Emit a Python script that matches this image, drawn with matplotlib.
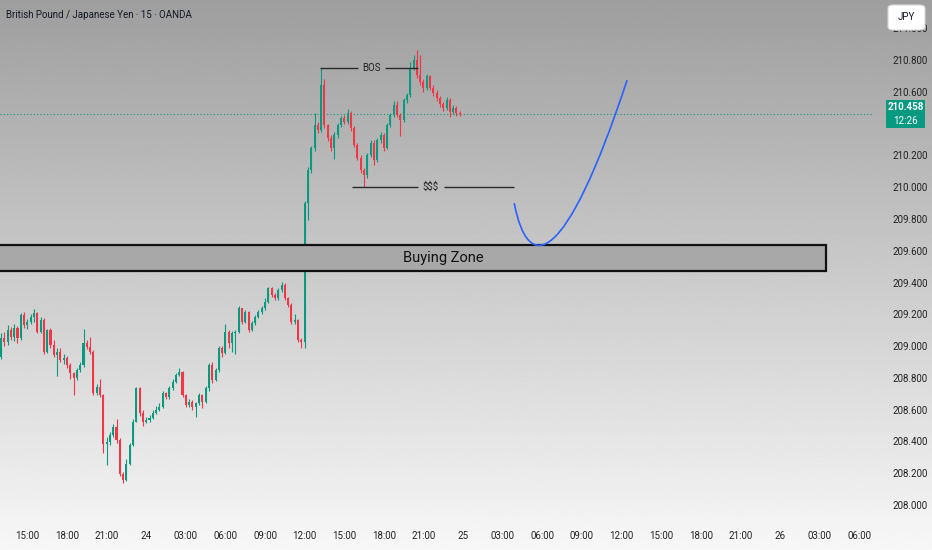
import numpy as np
import matplotlib
matplotlib.use("Agg")
import matplotlib.pyplot as plt
import matplotlib.transforms as mtransforms
from matplotlib.path import Path
from matplotlib.patches import PathPatch, Rectangle, FancyBboxPatch

plt.rcParams["font.family"] = ["Roboto", "DejaVu Sans"]

# GBP/JPY 15m candles (open = previous close)
first_open = 208.933
closes = [
    209.048, 209.027, 209.101, 209.059, 209.111, 209.048, 209.196, 209.133, 209.154, 209.185,
    209.206, 209.090, 209.164, 208.965, 209.101, 209.007, 208.944, 208.965, 208.912, 208.923,
    208.881, 208.828, 208.797, 208.849, 208.881, 209.017, 208.996, 208.965, 208.702, 208.744,
    208.692, 208.387, 208.398, 208.440, 208.492, 208.408, 208.198, 208.156, 208.261, 208.377,
    208.524, 208.734, 208.576, 208.524, 208.534, 208.545, 208.576, 208.597, 208.618, 208.702,
    208.681, 208.734, 208.776, 208.818, 208.839, 208.692, 208.629, 208.650, 208.618, 208.639,
    208.692, 208.650, 208.734, 208.881, 208.786, 208.849, 208.986, 208.954, 209.090, 209.017,
    209.080, 209.090, 209.237, 209.154, 209.217, 209.101, 209.143, 209.185, 209.217, 209.237,
    209.280, 209.364, 209.322, 209.301, 209.353, 209.385, 209.301, 209.259, 209.154, 209.164,
    209.038, 209.027, 209.900, 210.108, 210.246, 210.391, 210.359, 210.643, 210.391, 210.309,
    210.246, 210.328, 210.391, 210.435, 210.410, 210.466, 210.372, 210.265, 210.183, 210.108,
    210.076, 210.202, 210.278, 210.171, 210.297, 210.328, 210.246, 210.391, 210.454, 210.517,
    210.454, 210.422, 210.548, 210.580, 210.750, 210.800, 210.706, 210.662, 210.624, 210.699,
    210.624, 210.592, 210.561, 210.523, 210.498, 210.548, 210.473, 210.498, 210.466, 210.458,
]
highs = [
    209.080, 209.090, 209.130, 209.120, 209.140, 209.125, 209.210, 209.215, 209.170, 209.200,
    209.235, 209.215, 209.180, 209.175, 209.110, 209.115, 209.040, 208.990, 208.990, 208.950,
    208.940, 208.895, 208.840, 208.860, 208.900, 209.110, 209.040, 209.060, 208.975, 208.760,
    208.790, 208.700, 208.430, 208.460, 208.510, 208.540, 208.420, 208.210, 208.290, 208.390,
    208.540, 208.745, 208.740, 208.600, 208.555, 208.565, 208.600, 208.620, 208.640, 208.715,
    208.710, 208.750, 208.790, 208.830, 208.860, 208.845, 208.700, 208.670, 208.660, 208.650,
    208.705, 208.700, 208.750, 208.895, 208.900, 208.860, 209.000, 209.000, 209.140, 209.100,
    209.095, 209.100, 209.255, 209.240, 209.230, 209.220, 209.160, 209.195, 209.230, 209.250,
    209.300, 209.375, 209.370, 209.335, 209.365, 209.405, 209.395, 209.310, 209.270, 209.200,
    209.170, 209.050, 209.915, 210.125, 210.260, 210.466, 210.410, 210.750, 210.680, 210.400,
    210.330, 210.345, 210.405, 210.450, 210.455, 210.490, 210.480, 210.385, 210.280, 210.200,
    210.120, 210.215, 210.295, 210.300, 210.310, 210.345, 210.340, 210.405, 210.470, 210.540,
    210.545, 210.470, 210.560, 210.595, 210.790, 210.830, 210.863, 210.830, 210.680, 210.715,
    210.705, 210.640, 210.610, 210.575, 210.535, 210.565, 210.560, 210.515, 210.510, 210.480,
]
lows = [
    208.920, 209.000, 209.010, 209.040, 209.030, 209.020, 209.040, 209.115, 209.110, 209.140,
    209.150, 209.080, 209.085, 208.950, 208.955, 208.990, 208.930, 208.810, 208.900, 208.890,
    208.860, 208.790, 208.690, 208.785, 208.840, 208.870, 208.980, 208.950, 208.690, 208.690,
    208.680, 208.330, 208.250, 208.380, 208.430, 208.390, 208.180, 208.140, 208.150, 208.250,
    208.370, 208.520, 208.560, 208.500, 208.515, 208.525, 208.540, 208.570, 208.590, 208.610,
    208.665, 208.670, 208.725, 208.765, 208.810, 208.680, 208.615, 208.615, 208.600, 208.555,
    208.630, 208.610, 208.640, 208.720, 208.770, 208.780, 208.840, 208.930, 208.950, 208.990,
    208.960, 208.950, 209.080, 209.140, 209.145, 209.090, 209.095, 209.135, 209.175, 209.205,
    209.225, 209.270, 209.310, 209.290, 209.290, 209.340, 209.290, 209.245, 209.140, 209.140,
    209.025, 208.990, 208.985, 209.793, 210.090, 210.230, 210.340, 210.350, 210.370, 210.290,
    210.230, 210.180, 210.310, 210.380, 210.395, 210.400, 210.355, 210.250, 210.170, 210.090,
    210.001, 210.060, 210.190, 210.140, 210.160, 210.280, 210.230, 210.240, 210.380, 210.440,
    210.440, 210.320, 210.410, 210.530, 210.570, 210.740, 210.690, 210.645, 210.600, 210.610,
    210.610, 210.575, 210.545, 210.505, 210.480, 210.485, 210.440, 210.460, 210.450, 210.445,
]

time_labels = ["15:00", "18:00", "21:00", "24", "03:00", "06:00", "09:00", "12:00",
               "15:00", "18:00", "21:00", "25", "03:00", "06:00", "09:00", "12:00",
               "15:00", "18:00", "21:00", "26", "03:00", "06:00"]
# 210.400 is hidden behind the last-price label on the scale
price_ticks = [208.0, 208.2, 208.4, 208.6, 208.8, 209.0, 209.2, 209.4,
               209.6, 209.8, 210.0, 210.2, 210.6, 210.8, 211.0]

last_price = 210.458
countdown = "12:26"
zone_low, zone_high = 209.472, 209.636
bos_level = 210.750
liq_level = 210.001
# hand drawn projection (bar index, price) as bezier control points
proj_pts = [(155.5, 209.900), (159.7, 209.447), (170.9, 209.491), (189.7, 210.674)]

GREEN = "#089981"
RED = "#f23645"

W, H = 932, 550
fig = plt.figure(figsize=(W / 100, H / 100), dpi=100)

# grey-to-white vertical gradient background
bg = fig.add_axes([0, 0, 1, 1], zorder=-10)
grad = np.linspace(0.62, 0.97, 256).reshape(-1, 1)
bg.imshow(grad, cmap="gray", vmin=0, vmax=1, aspect="auto", extent=[0, 1, 0, 1])
bg.set_axis_off()

ax = fig.add_axes([0, 28 / H, 872 / W, 522 / H])
ax.set_facecolor("none")
for s in ax.spines.values():
    s.set_visible(False)

o = np.array([first_open] + closes[:-1])
c = np.array(closes)
x = np.arange(len(c))
cols = np.where(c >= o, GREEN, RED)
ax.vlines(x, lows, highs, colors=cols, lw=0.8, zorder=3)
ax.bar(x, np.maximum(np.abs(c - o), 0.004), bottom=np.minimum(o, c), width=0.62,
       color=cols, lw=0, zorder=4)

ax.set_xlim(-0.3, 263.9)
ax.set_ylim(207.893, 211.178)

ax.set_xticks(8 + 12 * np.arange(len(time_labels)))
ax.set_xticklabels(time_labels)
ax.set_yticks(price_ticks)
ax.set_yticklabels([f"{p:.3f}" for p in price_ticks])
ax.yaxis.tick_right()
ax.tick_params(axis="y", length=0, pad=14.5, labelsize=7, labelcolor="#222222")
ax.tick_params(axis="x", length=0, pad=6.5, labelsize=7, labelcolor="#222222")
for lbl in ax.get_yticklabels():
    lbl.set_horizontalalignment("left")

# last price line
ax.axhline(last_price, color=GREEN, lw=0.8, ls=(0, (1, 2)), zorder=2)

# buying zone
ax.add_patch(Rectangle((-3, zone_low), 253, zone_high - zone_low, facecolor="#a8a8a8",
                       edgecolor="#111111", lw=1.6, zorder=5))
ax.text(134, (zone_low + zone_high) / 2, "Buying Zone", ha="center", va="center",
        fontsize=10.5, color="#111111", zorder=6)

# BOS and liquidity lines
ax.hlines([bos_level, bos_level], [96.7, 116.4], [108.2, 126.4], color="#2a2a2a", lw=1, zorder=5)
ax.text(112.3, bos_level, "BOS", ha="center", va="center", fontsize=7, color="#222222")
ax.hlines([liq_level, liq_level], [106.4, 134.2], [126.4, 155.5], color="#2a2a2a", lw=1, zorder=5)
ax.text(130.3, liq_level, "$$$", ha="center", va="center", fontsize=7, color="#222222",
        parse_math=False)

# projected path
path = Path(proj_pts, [Path.MOVETO, Path.CURVE4, Path.CURVE4, Path.CURVE4])
ax.add_patch(PathPatch(path, facecolor="none", edgecolor="#2962ff", lw=1.2, zorder=6))

# last price label on the price scale (box 886..925 px, centred on the price)
tr = mtransforms.blended_transform_factory(ax.transAxes, ax.transData)
ax.add_patch(Rectangle((886 / 872, last_price - 0.088), 39 / 872, 0.176, transform=tr,
                       facecolor=GREEN, edgecolor="none", clip_on=False, zorder=7))
ax.text(905.5 / 872, last_price + 0.044, f"{last_price:.3f}", transform=tr,
        ha="center", va="center", fontsize=7, fontweight="bold", color="white",
        clip_on=False, zorder=8)
ax.text(905.5 / 872, last_price - 0.044, countdown, transform=tr, ha="center",
        va="center", fontsize=7, color="white", clip_on=False, zorder=8)

# header
fig.text(6 / W, 1 - 15 / H, "British Pound / Japanese Yen · 15 · OANDA", ha="left",
         va="center", fontsize=7, color="#131722")
fig.patches.append(FancyBboxPatch((888 / W, 1 - 30 / H), 37 / W, 25 / H,
                                  boxstyle="round,pad=0,rounding_size=0.006",
                                  transform=fig.transFigure, facecolor="white",
                                  edgecolor="#d8d8d8", lw=0.8, zorder=5))
fig.text(906 / W, 1 - 17.5 / H, "JPY", ha="center", va="center", fontsize=7,
         color="#131722", zorder=6)

fig.savefig("out.png", dpi=100)
